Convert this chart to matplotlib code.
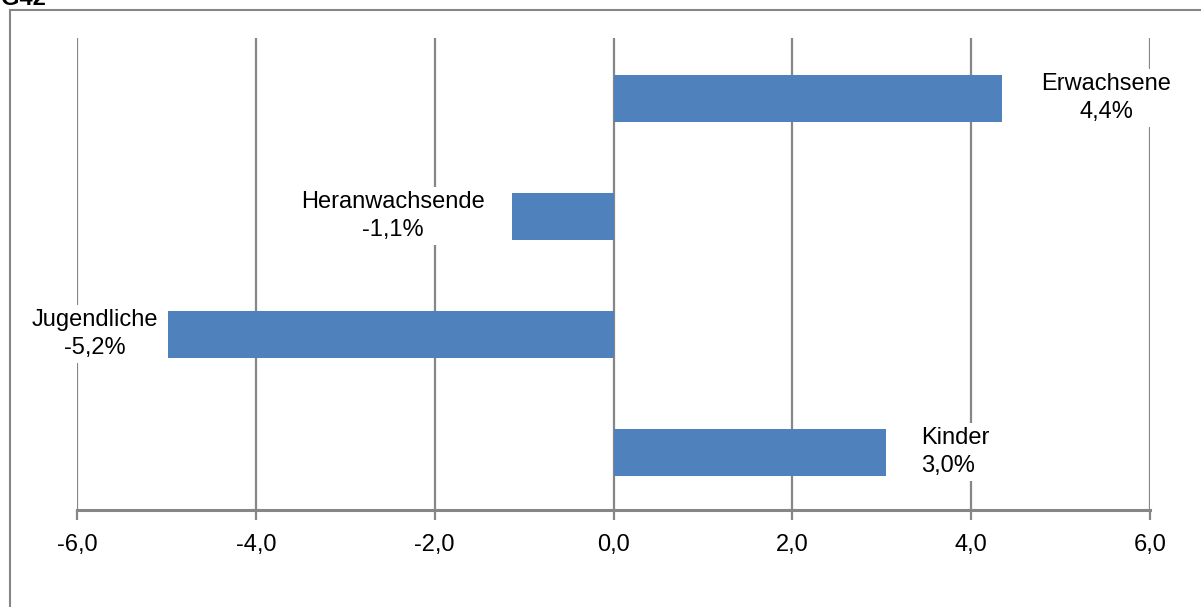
import numpy as np
import matplotlib
matplotlib.use("Agg")
from matplotlib import pyplot as plt
from matplotlib.patches import Rectangle
from matplotlib.ticker import FuncFormatter

# data (bottom to top)
categories = ["Kinder", "Jugendliche", "Heranwachsende", "Erwachsene"]
bar_values = [3.05, -4.98, -1.14, 4.35]
label_texts = ["3,0%", "-5,2%", "-1,1%", "4,4%"]
label_x = [3.44, -5.80, -2.47, 5.51]
label_align = ["left", "center", "center", "center"]

BAR_COLOR = "#4F81BD"
GRID_COLOR = "#868686"

plt.rcParams["font.family"] = ["Liberation Sans", "DejaVu Sans"]

fig = plt.figure(figsize=(12.01, 6.07), dpi=100)
ax = fig.add_axes([77 / 1201, 1 - 510 / 607, (1150 - 77) / 1201, (510 - 38) / 607])

y_pos = np.arange(len(categories))
ax.barh(y_pos - 0.01, bar_values, height=0.4, color=BAR_COLOR, zorder=2)

for y, name, txt, lx, ha in zip(y_pos, categories, label_texts, label_x, label_align):
    ax.text(lx, y - 0.01, f"{name}\n{txt}", ha=ha, va="center", multialignment=ha,
            fontsize=17, linespacing=1.35, zorder=4,
            bbox=dict(facecolor="white", edgecolor="none", pad=3))

ax.set_xlim(-6, 6)
ax.set_ylim(-0.5, 3.5)
ax.set_xticks(np.arange(-6, 7, 2))
ax.xaxis.set_major_formatter(FuncFormatter(lambda v, p: f"{v:.1f}".replace(".", ",")))
ax.set_yticks([])

ax.grid(axis="x", color=GRID_COLOR, linewidth=1.6, zorder=1)
ax.set_axisbelow(True)
for side in ["top", "right", "left"]:
    ax.spines[side].set_visible(False)
ax.spines["bottom"].set_color(GRID_COLOR)
ax.spines["bottom"].set_linewidth(2.2)
ax.tick_params(axis="x", direction="out", length=7, width=1.6, color=GRID_COLOR,
               labelsize=17, pad=10)

# outer frame of the chart area
fig.patches.append(Rectangle((10 / 1201, -0.1), 1.2, 1 - 10 / 607 + 0.1,
                             transform=fig.transFigure, fill=False,
                             edgecolor=GRID_COLOR, linewidth=1.5, clip_on=False))

fig.text(0.5 / 1201, 1 - 5 / 607, "G42", fontsize=17, fontweight="bold",
         ha="left", va="baseline")

fig.savefig("out.png", dpi=100)
